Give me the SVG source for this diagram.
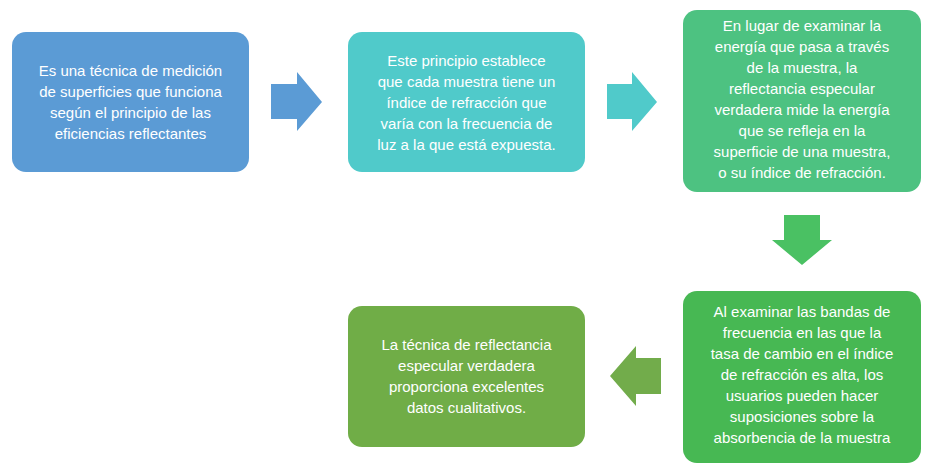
<svg xmlns="http://www.w3.org/2000/svg" width="925" height="472" viewBox="0 0 925 472">
<style>
text{font-family:"Liberation Sans",Arial,sans-serif;font-size:15px;fill:#fff;text-anchor:middle}
</style>
<rect width="925" height="472" fill="#fff"/>
<g id="n1"><rect x="12" y="32" width="237" height="140" rx="14" fill="#5B9BD5"/>
<text x="130.5" y="76">Es una técnica de medición</text><text x="130.5" y="97">de superficies que funciona</text><text x="130.5" y="118">según el principio de las</text><text x="130.5" y="139">eficiencias reflectantes</text></g>
<g id="n2"><rect x="348" y="32" width="237" height="140" rx="14" fill="#50CACA"/>
<text x="466.5" y="66">Este principio establece</text><text x="466.5" y="87">que cada muestra tiene un</text><text x="466.5" y="108">índice de refracción que</text><text x="466.5" y="129">varía con la frecuencia de</text><text x="466.5" y="150">luz a la que está expuesta.</text></g>
<g id="n3"><rect x="683" y="10" width="238" height="182" rx="14" fill="#4DC281"/>
<text x="802" y="31">En lugar de examinar la</text><text x="802" y="52">energía que pasa a través</text><text x="802" y="73">de la muestra, la</text><text x="802" y="94">reflectancia especular</text><text x="802" y="115">verdadera mide la energía</text><text x="802" y="136">que se refleja en la</text><text x="802" y="157">superficie de una muestra,</text><text x="802" y="178">o su índice de refracción.</text></g>
<g id="n4"><rect x="683" y="291" width="238" height="172" rx="14" fill="#47B853"/>
<text x="802" y="317">Al examinar las bandas de</text><text x="802" y="338">frecuencia en las que la</text><text x="802" y="359">tasa de cambio en el índice</text><text x="802" y="380">de refracción es alta, los</text><text x="802" y="401">usuarios pueden hacer</text><text x="802" y="422">suposiciones sobre la</text><text x="802" y="443">absorbencia de la muestra</text></g>
<g id="n5"><rect x="348" y="306" width="237" height="141" rx="14" fill="#70AD47"/>
<text x="466.5" y="350">La técnica de reflectancia</text><text x="466.5" y="371">especular verdadera</text><text x="466.5" y="392">proporciona excelentes</text><text x="466.5" y="413">datos cualitativos.</text></g>
<g id="connectors">
<polygon points="271,84 297,84 297,72 322,102 297,131 297,119 271,119" fill="#5B9BD5"/>
<polygon points="607,84 632,84 632,72 657,102 632,131 632,119 607,119" fill="#50CACA"/>
<polygon points="784,215 820,215 820,240 832,240 802,265 772,240 784,240" fill="#4AC163"/>
<polygon points="661,358 636,358 636,346 610,376 636,406 636,394 661,394" fill="#72AC4B"/>
</g>
</svg>
